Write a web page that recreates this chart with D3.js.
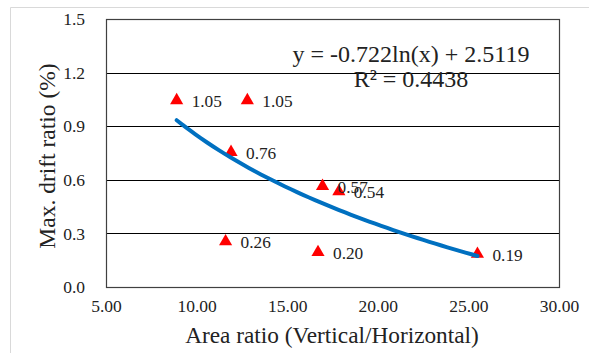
<!DOCTYPE html>
<html><head><meta charset="utf-8">
<script src="https://cdn.jsdelivr.net/npm/d3@7"></script>
<style>body{margin:0;background:#fff;}svg{display:block;font-family:"Liberation Serif","Times New Roman",serif;}</style>
</head><body><svg id="c" width="589" height="353"></svg>
<script>
const areaRatio = [8.9, 12.8, 11.9, 11.6, 16.95, 17.85, 16.7, 25.5];
const driftRatio = [1.05, 1.05, 0.76, 0.26, 0.57, 0.54, 0.20, 0.19];
const pointLabels = ["1.05", "1.05", "0.76", "0.26", "0.57", "0.54", "0.20", "0.19"];
const xTicks = [5, 10, 15, 20, 25, 30];
const yTicks = [0, 0.3, 0.6, 0.9, 1.2, 1.5];
const trendA = -0.722, trendB = 2.5119;
const trendRange = [8.9, 25.5];
const eqText = "y = -0.722ln(x) + 2.5119";
const r2Text = "R² = 0.4438";

const svg = d3.select("#c");
const L = 106, R = 559, T = 19, B = 287;
const x = d3.scaleLinear().domain([5, 30]).range([L, R]);
const y = d3.scaleLinear().domain([0, 1.5]).range([B, T]);

// outer frame
svg.append("path").attr("d", "M10.5,353 V7.5 H589").attr("fill", "none").attr("stroke", "#d9d9d9");

// gridlines
svg.append("g").selectAll("line").data(yTicks.filter(t => t > 0 && t < 1.5)).join("line")
  .attr("x1", L).attr("x2", R).attr("y1", d => Math.round(y(d)) + 0.5).attr("y2", d => Math.round(y(d)) + 0.5)
  .attr("stroke", "#000").attr("stroke-width", 1);

// plot frame
svg.append("rect").attr("x", L + 0.5).attr("y", T + 0.5).attr("width", R - L).attr("height", B - T)
  .attr("fill", "none").attr("stroke", "#404040").attr("stroke-width", 1.2);

// axes labels
const yAxis = d3.axisLeft(y).tickValues(yTicks).tickFormat(d3.format(".1f")).tickSize(0).tickPadding(21);
const gy = svg.append("g").attr("transform", `translate(${L},0)`).call(yAxis);
gy.select(".domain").remove();
gy.selectAll("text").attr("font-size", 17.5).attr("fill", "#222").attr("font-family", "Liberation Serif").attr("dy", "0.32em");

const xAxis = d3.axisBottom(x).tickValues(xTicks).tickFormat(d3.format(".2f")).tickSize(0).tickPadding(13);
const gx = svg.append("g").attr("transform", `translate(0,${B})`).call(xAxis);
gx.select(".domain").remove();
gx.selectAll("text").attr("font-size", 17.5).attr("fill", "#222").attr("font-family", "Liberation Serif");

// markers
const tri = d3.symbol().type(d3.symbolTriangle).size(75);
svg.append("g").selectAll("path").data(areaRatio).join("path")
  .attr("d", tri).attr("transform", (d, i) => `translate(${x(d)},${y(driftRatio[i]) + 1})`)
  .attr("fill", "#ff0000");

// point labels
svg.append("g").selectAll("text").data(areaRatio).join("text")
  .attr("x", d => x(d) + 15).attr("y", (d, i) => y(driftRatio[i]) + 7.5)
  .attr("font-size", 17.3).attr("fill", "#222").text((d, i) => pointLabels[i]);

// trendline
const tx = d3.range(0, 51).map(i => trendRange[0] + (trendRange[1] - trendRange[0]) * i / 50);
svg.append("path").datum(tx)
  .attr("d", d3.line().x(d => x(d)).y(d => y(trendA * Math.log(d) + trendB)).curve(d3.curveBasis))
  .attr("fill", "none").attr("stroke", "#0070c0").attr("stroke-width", 4).attr("stroke-linecap", "round");

// equation
svg.append("text").attr("x", 411).attr("y", 62).attr("text-anchor", "middle").attr("font-size", 24).attr("fill", "#222").text(eqText);
svg.append("text").attr("x", 411).attr("y", 87).attr("text-anchor", "middle").attr("font-size", 24).attr("fill", "#222").text(r2Text);

// axis titles
svg.append("text").attr("x", 332).attr("y", 343).attr("text-anchor", "middle").attr("font-size", 23.3).attr("fill", "#222").text("Area ratio (Vertical/Horizontal)");
svg.append("text").attr("transform", "translate(55,156) rotate(-90)").attr("text-anchor", "middle").attr("font-size", 23.5).attr("fill", "#222").text("Max. drift ratio (%)");
</script></body></html>
